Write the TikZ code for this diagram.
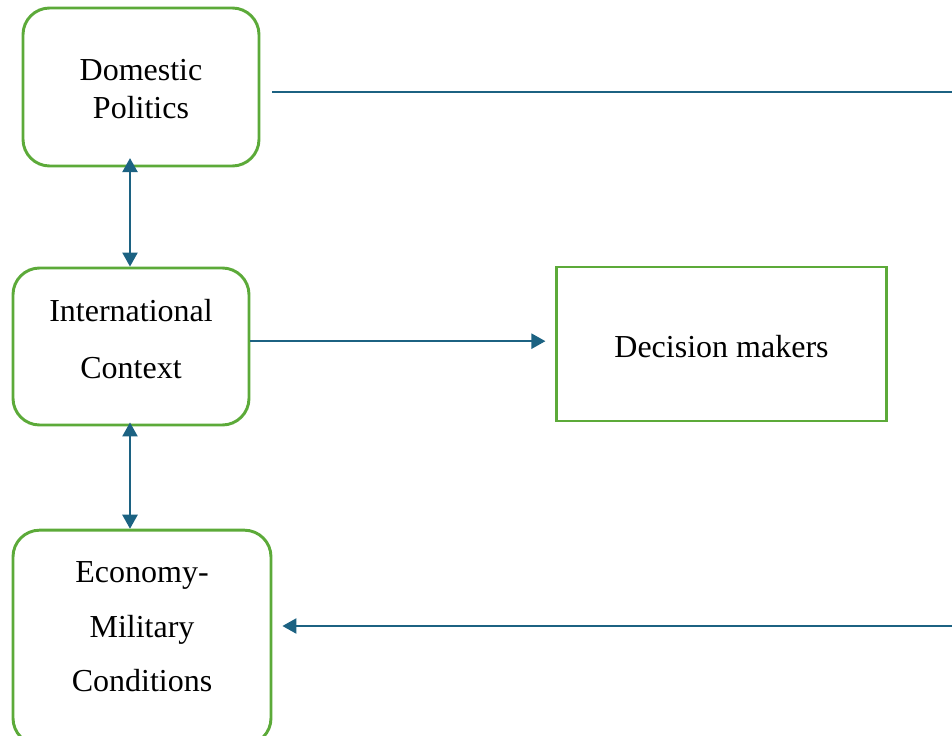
\documentclass[tikz,border=0pt]{standalone}
\usepackage{fontspec}
\setmainfont{Liberation Serif}
\usetikzlibrary{arrows.meta}
\definecolor{boxgreen}{RGB}{92,170,57}
\definecolor{arrowblue}{RGB}{28,98,130}

\begin{document}
\begin{tikzpicture}[x=0.75pt, y=-0.75pt,
    box/.style={draw=boxgreen, line width=2.2pt, rounded corners=20pt, inner sep=0pt},
    decbox/.style={draw=boxgreen, line width=2.2pt, inner sep=0pt},
    boxtext/.style={align=center, inner sep=0pt},
    arr/.style={draw=arrowblue, line width=1.1pt, -{Triangle[length=10.5pt, width=11.5pt]}},
    biarr/.style={draw=arrowblue, line width=1.1pt, {Triangle[length=10.5pt, width=11.5pt]}-{Triangle[length=10.5pt, width=11.5pt]}}
  ]
    \useasboundingbox (0,0) rectangle (952,735);

    % Cadres
    \node[box, minimum width=177pt, minimum height=118.5pt] (dom) at (141,87) {};
    \node[boxtext, font=\fontsize{24}{28.5}\selectfont] (domtxt) at ([yshift=-1.5pt]dom.center) {Domestic\\Politics};
    \node[box, minimum width=177pt, minimum height=117.75pt] (intl) at (131,346.5) {};
    \node[boxtext, font=\fontsize{24}{42.75}\selectfont] (intltxt) at ([yshift=5.5pt]intl.center) {International\\Context};
    \node[box, minimum width=193.5pt, minimum height=161pt] (econ) at (142,637.5) {};
    \node[boxtext, font=\fontsize{24}{41}\selectfont] (econtxt) at ([yshift=8pt]econ.center) {Economy-\\Military\\Conditions};
    \node[decbox, minimum width=248pt, minimum height=115.5pt] (dec) at (721.5,344) {};
    \node[boxtext, font=\fontsize{24}{28}\selectfont] (dectxt) at ([yshift=-2pt]dec.center) {Decision makers};

    % Bords droits
    \coordinate (rtop) at (952,92);
    \coordinate (rbot) at (952,626);

    % Liaisons
    \draw[biarr, shorten >=-7pt] (130,0 |- intl.north) -- (130,0 |- dom.south);
    \draw[biarr, shorten >=-3pt] (130,0 |- econ.north) -- (130,0 |- intl.south);
    \draw[arr, shorten >=7pt] ([yshift=4pt]intl.east) -- ([yshift=4pt]intl.east -| dec.west);
    \draw[draw=arrowblue, line width=1.1pt] ([xshift=9pt]dom.east |- rtop) -- (rtop);
    \draw[arr] (rbot) -- ([xshift=7.5pt]econ.east |- rbot);
\end{tikzpicture}
\end{document}
